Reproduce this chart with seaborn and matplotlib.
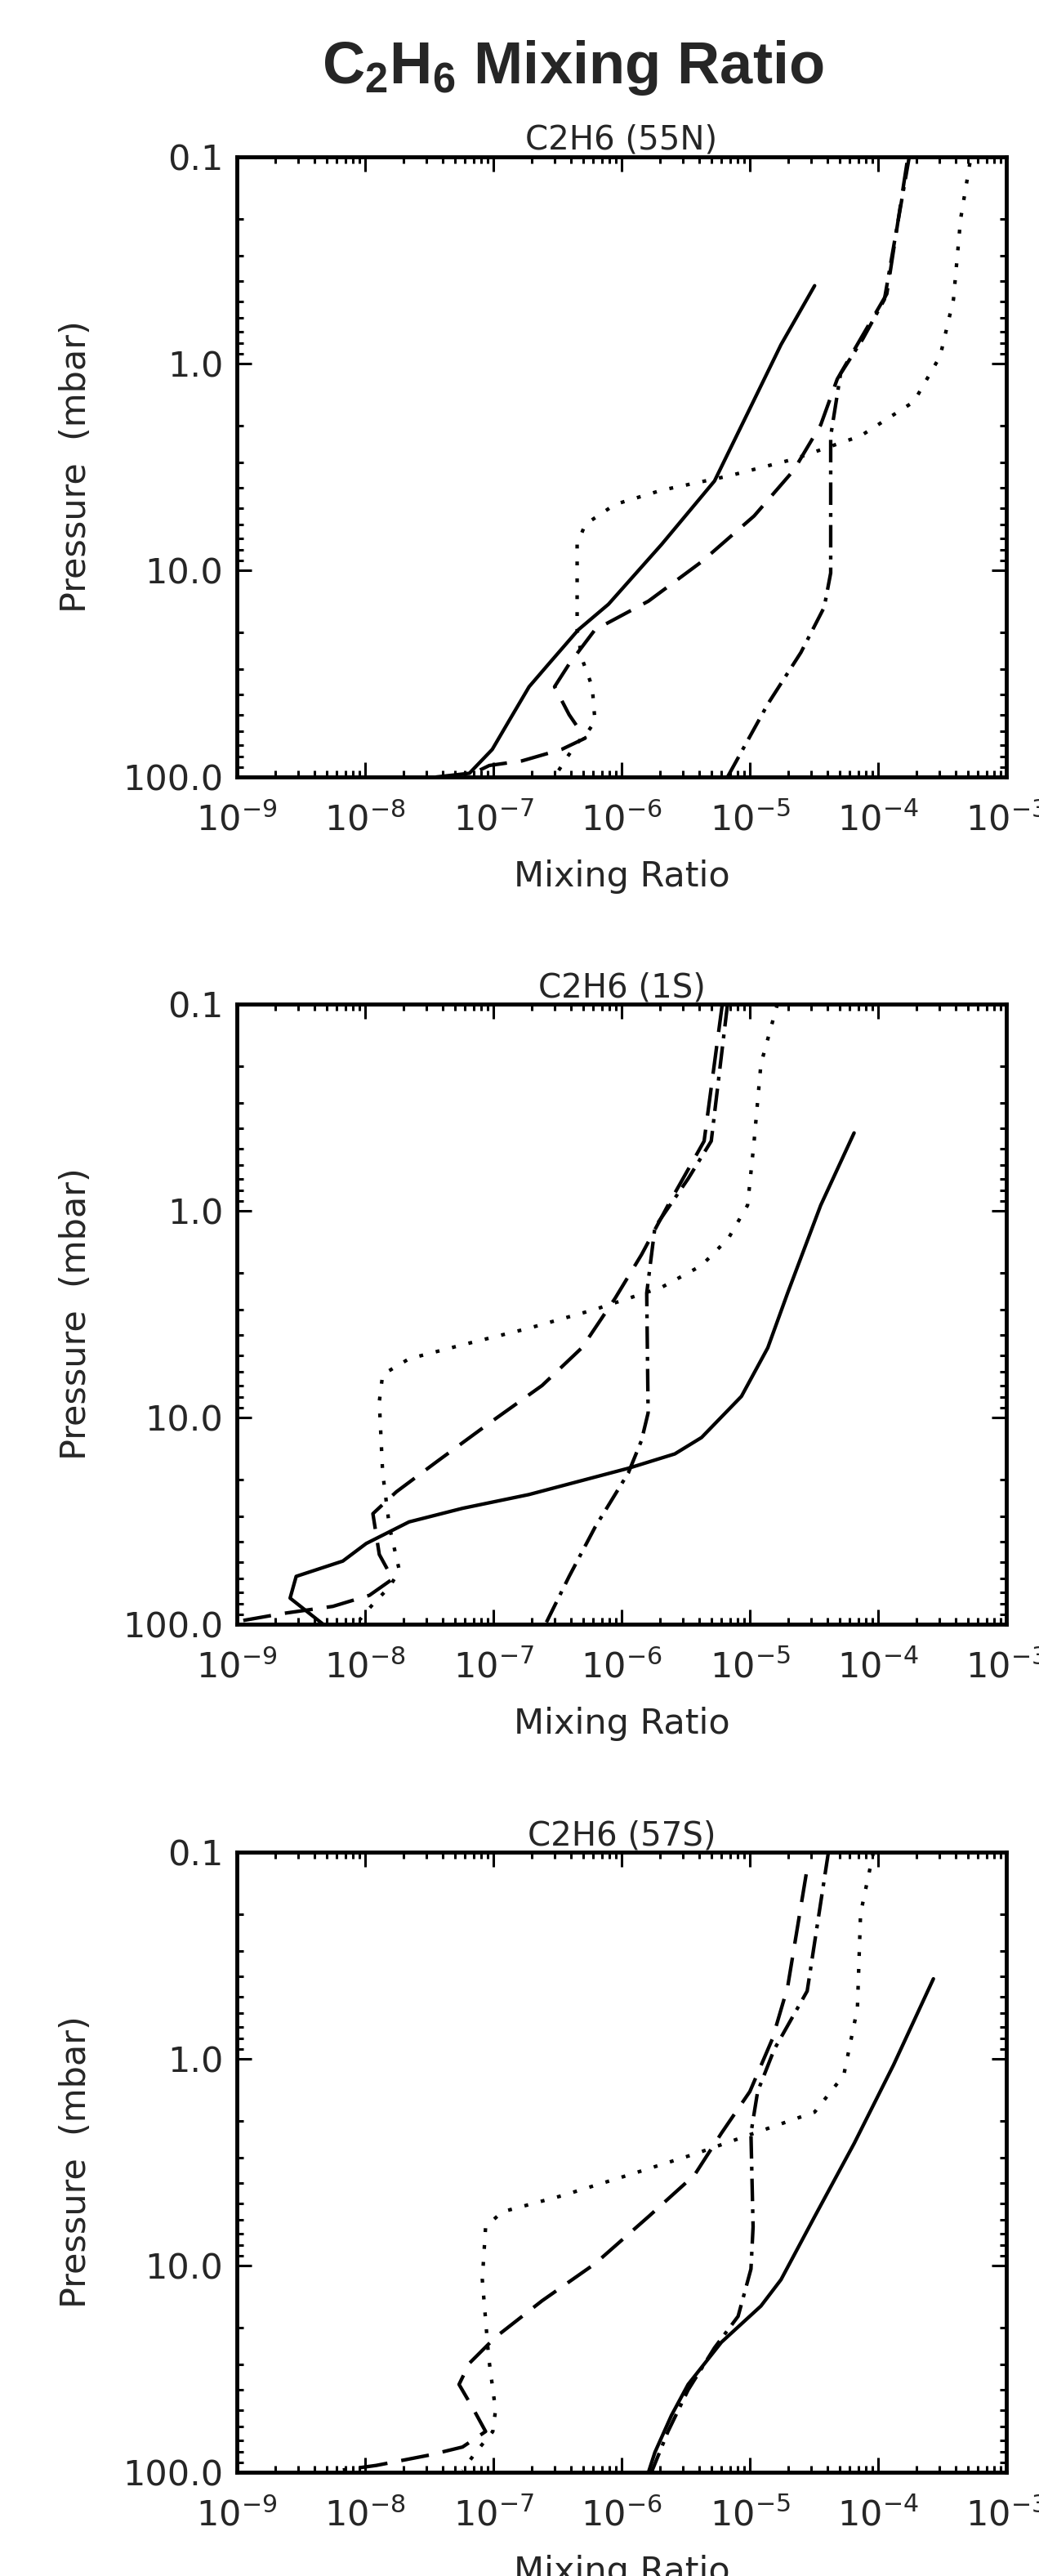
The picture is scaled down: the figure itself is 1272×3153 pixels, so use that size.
import numpy as np
import pandas as pd
import seaborn as sns
import matplotlib
matplotlib.use("Agg")
import matplotlib.pyplot as plt
from matplotlib.ticker import LogLocator, FixedLocator, FixedFormatter, NullFormatter

# ---- data (mixing ratio, pressure in mbar) ----
panel_titles = ["C2H6 (55N)", "C2H6 (1S)", "C2H6 (57S)"]
ytick_vals = [0.1, 1.0, 10.0, 100.0]
ytick_labels = ["0.1", "1.0", "10.0", "100.0"]

# 55N
n55_solid_x = [3.2e-5, 1.75e-5, 9.6e-6, 5.3e-6, 2.05e-6, 7.9e-7, 4.6e-7, 2.7e-7, 1.9e-7, 1.32e-7, 9.8e-8, 6.5e-8, 3.6e-8]
n55_solid_p = [0.42, 0.81, 1.74, 3.7, 7.5, 14.6, 19.4, 28.4, 36.6, 53.7, 73.6, 96, 100]
n55_dash_x = [1.68e-4, 1.17e-4, 7.3e-5, 4.8e-5, 3.57e-5, 2.2e-5, 1.08e-5, 4.2e-6, 1.62e-6, 6.2e-7, 3.9e-7, 3.0e-7, 3.9e-7, 5.2e-7, 3.4e-7, 1.67e-7, 9.3e-8, 6.5e-8]
n55_dash_p = [0.107, 0.46, 0.76, 1.19, 1.98, 3.28, 5.46, 9.1, 14.1, 19.4, 28.4, 36.6, 50, 64.9, 73.6, 83.6, 88, 98]
n55_dot_x = [5.2e-4, 4.4e-4, 3.87e-4, 3.05e-4, 1.9e-4, 7.3e-5, 2.2e-5, 6.8e-6, 2.05e-6, 8.9e-7, 5.2e-7, 4.5e-7, 4.5e-7, 4.9e-7, 5.9e-7, 6.2e-7, 5.4e-7, 4.4e-7, 3.6e-7, 3.0e-7]
n55_dot_p = [0.107, 0.2, 0.49, 0.92, 1.53, 2.24, 2.9, 3.5, 4.1, 4.8, 6.0, 7.5, 19.4, 26.7, 36.6, 53.7, 61, 69.5, 83.6, 100]
n55_dashdot_x = [1.75e-4, 1.12e-4, 7.6e-5, 5.1e-5, 4.27e-5, 4.27e-5, 3.8e-5, 2.5e-5, 1.38e-5, 6.7e-6]
n55_dashdot_p = [0.1, 0.49, 0.76, 1.12, 2.24, 10.3, 15.1, 25, 44.4, 100]

# 1S
s1_solid_x = [6.5e-5, 3.57e-5, 1.97e-5, 1.38e-5, 8.6e-6, 4.2e-6, 2.6e-6, 1.13e-6, 1.89e-7, 5.75e-8, 2.2e-8, 1.02e-8, 6.7e-9, 2.9e-9, 2.6e-9, 4.7e-9]
s1_solid_p = [0.42, 0.94, 2.5, 4.6, 7.9, 12.5, 15, 17.6, 23.6, 27.5, 32, 40.7, 49.5, 58.7, 74.8, 100]
s1_dash_x = [6.1e-6, 4.4e-6, 2.3e-6, 1.43e-6, 8.9e-7, 4.9e-7, 2.4e-7, 9.2e-8, 3.6e-8, 1.75e-8, 1.15e-8, 1.29e-8, 1.64e-8, 1.08e-8, 5.6e-9, 2.3e-9, 1.06e-9]
s1_dash_p = [0.1, 0.46, 0.94, 1.63, 2.65, 4.6, 7.0, 10.7, 16.4, 22.9, 29.2, 46, 60.4, 72.5, 82, 88.7, 96.5]
s1_dot_x = [1.64e-5, 1.22e-5, 1.08e-5, 9.6e-6, 6.8e-6, 4.2e-6, 2.04e-6, 6.2e-7, 1.89e-7, 5.75e-8, 2.2e-8, 1.37e-8, 1.29e-8, 1.37e-8, 1.55e-8, 1.85e-8, 1.55e-8, 1.15e-8, 9.1e-9]
s1_dot_p = [0.1, 0.195, 0.46, 0.94, 1.36, 1.84, 2.35, 3.0, 3.7, 4.45, 5.2, 6.2, 8.4, 18.5, 34, 55, 66, 80, 95]
s1_dashdot_x = [6.7e-6, 5.0e-6, 3.3e-6, 1.82e-6, 1.57e-6, 1.61e-6, 1.43e-6, 1.13e-6, 6.2e-7, 3.9e-7, 2.55e-7]
s1_dashdot_p = [0.1, 0.46, 0.7, 1.2, 2.5, 9.5, 12.9, 18.5, 34, 58.7, 100]

# 57S
s57_solid_x = [2.7e-4, 1.32e-4, 6.5e-5, 3.2e-5, 1.75e-5, 1.22e-5, 6.0e-6, 3.3e-6, 2.45e-6, 1.82e-6, 1.62e-6]
s57_solid_p = [0.41, 1.07, 2.57, 5.8, 11.7, 15.7, 23.5, 37.6, 53, 80, 100]
s57_dash_x = [2.75e-5, 1.97e-5, 1.5e-5, 1.0e-5, 6.0e-6, 3.7e-6, 1.62e-6, 6.2e-7, 2.4e-7, 1.04e-7, 6.5e-8, 5.4e-8, 6.9e-8, 8.7e-8, 5.75e-8, 3.2e-8, 1.22e-8, 6.7e-9]
s57_dash_p = [0.128, 0.45, 0.8, 1.44, 2.29, 3.65, 5.8, 9.8, 14.8, 22.2, 29.7, 37.6, 48.8, 63.5, 75.5, 82.5, 92.7, 97.5]
s57_dot_x = [9.2e-5, 7.3e-5, 6.9e-5, 5.4e-5, 3.2e-5, 1.08e-5, 3.7e-6, 1.13e-6, 3.4e-7, 1.17e-7, 8.7e-8, 8.2e-8, 9.2e-8, 1.04e-7, 9.9e-8, 7.3e-8, 5.75e-8]
s57_dot_p = [0.1, 0.198, 0.57, 1.2, 1.81, 2.29, 2.89, 3.65, 4.6, 5.5, 6.5, 11.7, 28, 50, 63.5, 80, 98]
s57_dashdot_x = [4.1e-5, 2.8e-5, 1.55e-5, 1.15e-5, 1.02e-5, 1.06e-5, 1.02e-5, 8.1e-6, 5.3e-6, 3.3e-6, 2.3e-6, 1.71e-6]
s57_dashdot_p = [0.1, 0.47, 0.9, 1.44, 2.29, 6.5, 10.4, 17.6, 25, 40, 63.5, 100]

panels = [
    [(n55_solid_x, n55_solid_p), (n55_dash_x, n55_dash_p), (n55_dot_x, n55_dot_p), (n55_dashdot_x, n55_dashdot_p)],
    [(s1_solid_x, s1_solid_p), (s1_dash_x, s1_dash_p), (s1_dot_x, s1_dot_p), (s1_dashdot_x, s1_dashdot_p)],
    [(s57_solid_x, s57_solid_p), (s57_dash_x, s57_dash_p), (s57_dot_x, s57_dot_p), (s57_dashdot_x, s57_dashdot_p)],
]
styles = ["-", (0, (8, 4)), (0, (1.1, 3.7)), (0, (6.4, 2.3, 1.1, 2.3))]

sns.set_style("ticks")
plt.rcParams["font.family"] = ["DejaVu Sans"]
plt.rcParams["mathtext.fontset"] = "custom"
plt.rcParams["mathtext.bf"] = "Liberation Sans:bold"

W, H = 1272, 3153
fig = plt.figure(figsize=(W / 100, H / 100), dpi=100)

fig.text(701 / W, 1 - 102 / H, r"$\mathbf{C_2H_6}$ Mixing Ratio", ha="center", va="baseline",
         fontsize=52, fontweight="bold", family="Liberation Sans")

axes_top_px = [192, 1229, 2267]
ax_h_px = 759
for i, curves in enumerate(panels):
    top = axes_top_px[i]
    ax = fig.add_axes([290 / W, 1 - (top + ax_h_px) / H, 942 / W, ax_h_px / H])
    for (xs, ps), ls in zip(curves, styles):
        df = pd.DataFrame({"mr": xs, "p": ps})
        sns.lineplot(data=df, x="mr", y="p", sort=False, estimator=None, ax=ax,
                     color="black", linewidth=3.1, linestyle=ls)
    ax.set_xscale("log")
    ax.set_yscale("log")
    ax.set_xlim(1e-9, 1e-3)
    ax.set_ylim(100, 0.1)
    ax.xaxis.set_major_locator(LogLocator(base=10, numticks=10))
    ax.xaxis.set_minor_locator(LogLocator(base=10, subs=np.arange(2, 10), numticks=20))
    ax.xaxis.set_minor_formatter(NullFormatter())
    ax.yaxis.set_major_locator(FixedLocator(ytick_vals))
    ax.yaxis.set_major_formatter(FixedFormatter(ytick_labels))
    ax.yaxis.set_minor_locator(LogLocator(base=10, subs=np.arange(2, 10), numticks=20))
    ax.yaxis.set_minor_formatter(NullFormatter())
    ax.tick_params(which="both", direction="in", top=True, right=True, width=2.2, color="black")
    ax.tick_params(which="major", length=13)
    ax.tick_params(which="minor", length=6)
    ax.tick_params(axis="x", which="major", labelsize=31, pad=23)
    ax.tick_params(axis="y", which="major", labelsize=31, pad=12)
    for s in ax.spines.values():
        s.set_linewidth(3.5)
        s.set_color("black")
    ax.set_title(panel_titles[i], fontsize=29, pad=6)
    ax.set_xlabel("Mixing Ratio", fontsize=31, labelpad=19)
    ax.set_ylabel("Pressure  (mbar)", fontsize=31, labelpad=26)

fig.savefig("out.png", dpi=100)
